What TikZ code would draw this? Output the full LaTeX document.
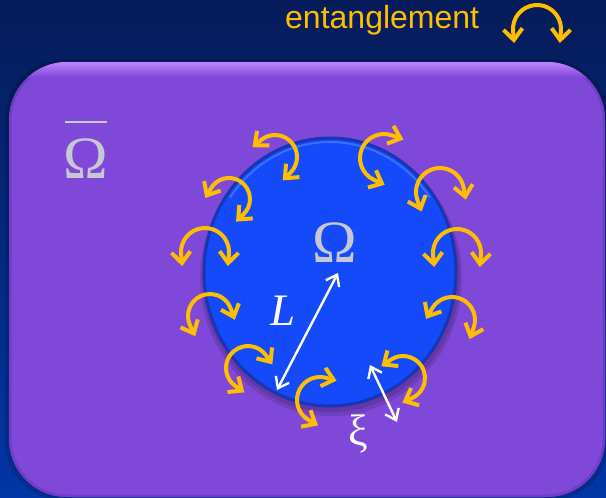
\documentclass[tikz,border=0pt]{standalone}
\usepackage{fontspec}
\setmainfont{Liberation Serif}
\newfontfamily\arialf{Liberation Sans}
\usetikzlibrary{arrows.meta,calc}
\definecolor{bgtop}{RGB}{6,28,90}
\definecolor{bgbot}{RGB}{2,54,166}
\definecolor{purp}{RGB}{128,72,217}
\definecolor{purpdark}{RGB}{112,62,198}
\definecolor{purphi}{RGB}{190,132,255}
\definecolor{ballblue}{RGB}{20,74,250}
\definecolor{balledge}{RGB}{24,54,180}
\definecolor{ballhi}{RGB}{70,120,255}
\definecolor{entor}{RGB}{255,190,0}
\definecolor{omgray}{RGB}{200,200,212}
\tikzset{
  ent/.style={draw=entor, line width=4pt, line cap=round, line join=round,
    arrows={Straight Barb[length=11pt,width=19pt]-Straight Barb[length=11pt,width=19pt]}},
  warrow/.style={draw=white, line width=2.4pt, line cap=round,
    arrows={Straight Barb[length=10pt,width=15pt]-Straight Barb[length=10pt,width=15pt]}},
  omtext/.style={text=omgray, font=\fontsize{60}{60}\selectfont, inner sep=0pt, anchor=base},
}
% center x, center y (pixels, y down), radius, start angle, end angle (clockwise), extension
\newcommand\entarc[6]{%
  \draw[ent] ($(#1,-#2)+(#4:#3pt)+(#4+90:#6pt)$) -- ($(#1,-#2)+(#4:#3pt)$)
    arc[start angle=#4,end angle=#5,radius=#3pt] -- ++(#5-90:#6pt);
}
\begin{document}
\begin{tikzpicture}[x=1pt,y=1pt]
\useasboundingbox (0,0) rectangle (606,-498);
% background
\shade[top color=bgtop, bottom color=bgbot] (0,0) rectangle (606,-498);
% purple panel
\fill[black, opacity=0.15, rounded corners=60pt] (5,-59) rectangle (609,-501);
\fill[purp, rounded corners=58pt] (9,-62) rectangle (605,-497);
\begin{scope}
  \clip[rounded corners=58pt] (9,-62) rectangle (605,-497);
  \draw[purpdark, line width=5pt, rounded corners=58pt] (9,-62) rectangle (605,-497);
  \shade[top color=purphi, bottom color=purp] (0,-62) rectangle (606,-77);
\end{scope}
% blue region
\fill[black, opacity=0.12] (331,-278) ellipse [x radius=131, y radius=138];
\fill[black, opacity=0.12] (331,-276) ellipse [x radius=129, y radius=136];
\fill[ballblue] (330,-272) ellipse [x radius=127, y radius=135];
\draw[balledge, line width=3pt] (330,-272) ellipse [x radius=126, y radius=134];
\draw[ballhi, line width=2pt, opacity=0.8] ($(330,-272)+({122*cos(35)},{130*sin(35)})$)
  arc[start angle=35, end angle=145, x radius=122, y radius=130];
% labels
\node[omtext] (omout) at (86,-178) {Ω};
\draw[omgray, line width=2.6pt] ($(omout.base)+(-21,56)$) -- ($(omout.base)+(21,56)$);
\node[omtext] (omin) at (335,-262) {Ω};
\node[text=entor, font=\arialf\fontsize{32}{32}\selectfont, anchor=base west, inner sep=0pt] (ent) at (285,-28) {entanglement};
% entanglement arrows
\entarc{537}{29}{24}{185}{-5}{12}
\entarc{275}{157}{22}{130}{-45}{11}
\entarc{229}{199}{21}{150}{-45}{11}
\entarc{205}{252}{24}{185}{-5}{12}
\entarc{210}{316}{22}{205}{20}{12}
\entarc{248}{368}{22}{235}{35}{11}
\entarc{320}{400}{23}{240}{75}{11}
\entarc{403}{378}{22}{125}{-65}{11}
\entarc{452}{320}{23}{150}{-20}{12}
\entarc{457}{253}{24}{185}{-5}{12}
\entarc{440}{192}{24}{200}{10}{12}
\entarc{384}{158}{24}{245}{70}{12}
% L and xi
\coordinate (L1) at (277,-390);
\coordinate (L2) at (338,-273);
\draw[warrow] (L1) -- (L2);
\node[text=white, font=\fontsize{45}{45}\selectfont\itshape, anchor=base, inner sep=0pt] (lab) at (283,-325) {L};
\coordinate (X1) at (370,-365);
\coordinate (X2) at (397,-422);
\draw[warrow] (X1) -- (X2);
\node[text=white, font=\fontsize{44}{44}\selectfont, anchor=base, inner sep=0pt] (xi) at (358,-445) {ξ};
\end{tikzpicture}
\end{document}
